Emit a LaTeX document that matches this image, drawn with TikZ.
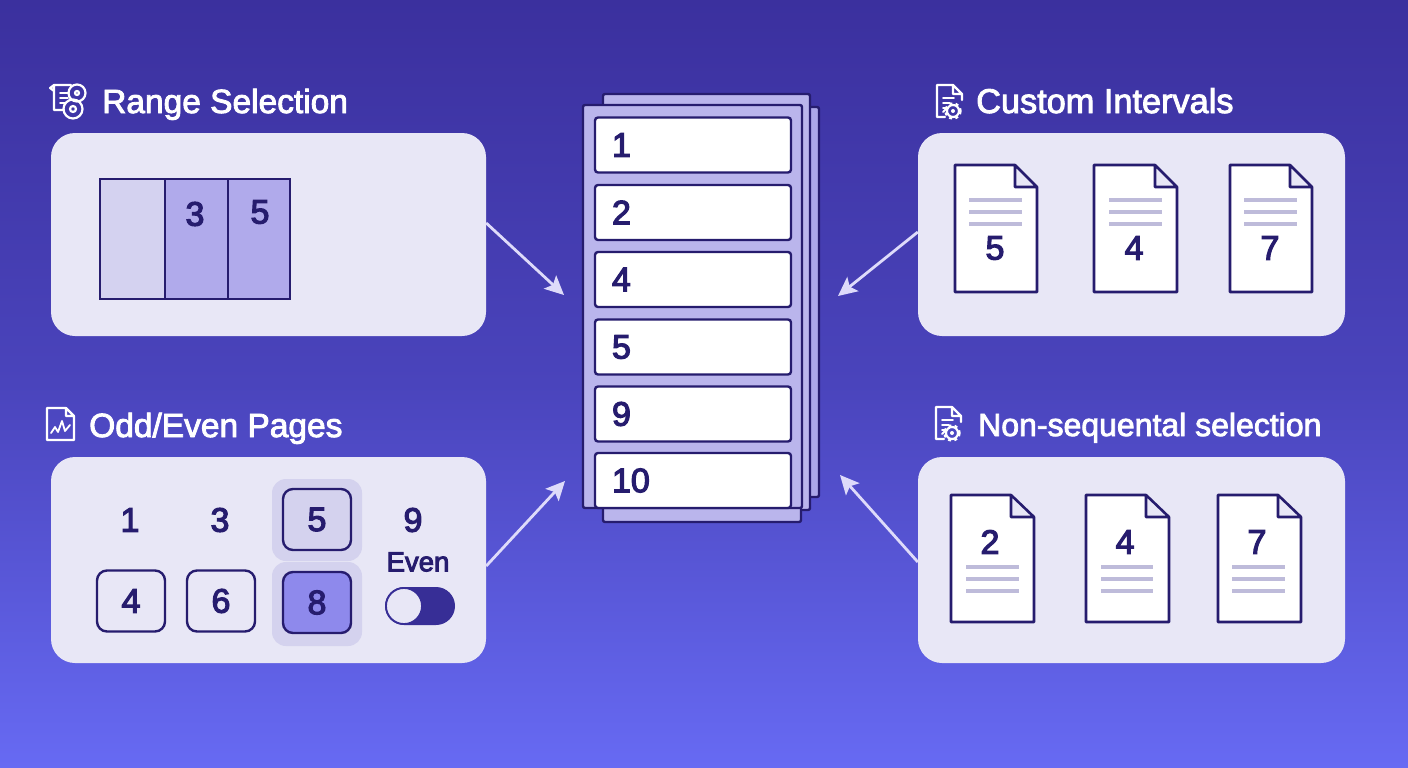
\documentclass[tikz,border=0pt]{standalone}
\usepackage{fontspec}
\usetikzlibrary{arrows.meta}
\setmainfont{Liberation Sans}
\newfontfamily\medfont[FakeBold=3.4]{Liberation Sans}
\newfontfamily\headfont[FakeBold=2.6]{Liberation Sans}
\definecolor{inkdark}{RGB}{38,28,110}
\definecolor{bgtop}{RGB}{59,48,158}
\definecolor{bgmid}{RGB}{74,68,188}
\definecolor{bgbot}{RGB}{103,106,243}
\definecolor{panelfill}{RGB}{232,231,246}
\definecolor{sheetfill}{RGB}{172,167,233}
\definecolor{frontfill}{RGB}{186,181,236}
\definecolor{lightcell}{RGB}{212,210,240}
\definecolor{midcell}{RGB}{176,170,235}
\definecolor{halofill}{RGB}{212,210,238}
\definecolor{pickfill}{RGB}{142,137,236}
\definecolor{linegray}{RGB}{190,187,218}
\definecolor{arrowlight}{RGB}{222,219,250}
\definecolor{togglefill}{RGB}{55,46,150}
\tikzset{
  panel/.style = {fill = panelfill, rounded corners = 24pt, minimum width = #1, inner sep = 0pt},
  title/.style = {text = white, anchor = base west, inner sep = 0pt},
  num/.style = {text = inkdark, font = \medfont\fontsize{34}{34}\selectfont, inner sep = 0pt},
  sheet/.style = {draw = inkdark, line width = 2.4pt, rounded corners = 2pt},
  row/.style = {draw = inkdark, line width = 2.4pt, fill = white, rounded corners = 3pt, minimum width = 196pt, minimum height = 55pt, text = inkdark, font = \medfont\fontsize{34}{34}\selectfont, align = left, text width = 162pt, inner xsep = 17pt, inner ysep = 0pt},
  numbox/.style = {draw = inkdark, line width = 2.4pt, rounded corners = 10pt, minimum width = 68pt, minimum height = 61pt, text = inkdark, font = \medfont\fontsize{34}{34}\selectfont, inner sep = 0pt},
  pagebox/.style = {draw = inkdark, line width = 2.6pt, fill = white, line join = round},
  pageline/.style = {draw = linegray, line width = 3.4pt},
  icon/.style = {draw = white, line width = 2.2pt, line join = round, line cap = round},
  flow/.style = {draw = arrowlight, line width = 2.8pt, -{Stealth[length = 19pt, width = 18pt, inset = 4pt]}}
}
\begin{document}
\begin{tikzpicture}[x = 1pt, y = -1pt]
        \useasboundingbox (0,0) rectangle (1408,768);
        \shade [top color = bgtop, bottom color = bgbot, middle color = bgmid] (0,0) rectangle (1408,768);

        \node [panel = 435pt, minimum height = 203pt] (rangepanel) at (268.5,234.5) {};
        \node [panel = 435pt, minimum height = 206pt] (oddpanel) at (268.5,560) {};
        \node [panel = 427pt, minimum height = 203pt] (custompanel) at (1131.5,234.5) {};
        \node [panel = 427pt, minimum height = 206pt] (nonseqpanel) at (1131.5,560) {};

        \node [title, font = \headfont\fontsize{33.5}{34}\selectfont] (rangetitle) at (102,113) {Range Selection};
        \node [title, font = \headfont\fontsize{33.5}{34}\selectfont] (oddtitle) at (89,437) {Odd/Even Pages};
        \node [title, font = \headfont\fontsize{34.3}{34}\selectfont] (customtitle) at (976,113) {Custom Intervals};
        \node [title, font = \headfont\fontsize{32}{34}\selectfont] (nonseqtitle) at (978,436) {Non-sequental selection};

        % title icons
        \draw [icon] (50,88) -- (54,85) -- (71,85) (54,85) -- (54,110) -- (64,110) (50,88) -- (54,91);
        \draw [icon, line width = 1.8pt] (60,93) -- (69,93) (60,98) -- (68,98) (60,103) -- (65,103);
        \draw [icon] (77,93) circle (8.5) (73,109) circle (9.5);
        \draw [icon] (77,93) circle (2) (73,109) circle (3);
        \draw [icon] (47,408) -- (66,408) -- (74,416) -- (74,440) -- (47,440) -- cycle (66,408) -- (66,416) -- (74,416);
        \draw [icon, line width = 1.8pt] (51,433) -- (55,427) -- (58,432) -- (62,421) -- (65,431) -- (70,425);
        \draw [icon] (945,117) -- (937,117) -- (937,85) -- (953,85) -- (962,94) -- (962,100) (953,85) -- (953,94) -- (962,94);
        \draw [icon, line width = 1.8pt] (943,98) -- (954,98) (943,103) -- (950,103) (943,108) -- (947,108) -- (943,112);
        \draw [icon, line width = 2.2pt] (953,111) circle (6);
        \draw [icon, line width = 2.4pt, line cap = butt, dash pattern = on 3pt off 3.3pt] (953,111) circle (7.5);
        \fill [white] (953,111) circle (2);
        \draw [icon] (944,439) -- (936,439) -- (936,407) -- (952,407) -- (961,416) -- (961,422) (952,407) -- (952,416) -- (961,416);
        \draw [icon, line width = 1.8pt] (942,420) -- (953,420) (942,425) -- (949,425) (942,430) -- (946,430) -- (942,434);
        \draw [icon, line width = 2.2pt] (952,433) circle (6);
        \draw [icon, line width = 2.4pt, line cap = butt, dash pattern = on 3pt off 3.3pt] (952,433) circle (7.5);
        \fill [white] (952,433) circle (2);

        % range bar
        \fill [lightcell] (100,179) rectangle (165,299);
        \fill [midcell] (165,179) rectangle (290,299);
        \draw [draw = inkdark, line width = 2.6pt] (100,179) rectangle (290,299) (165,179) -- (165,299) (228,179) -- (228,299);
        \node [num] (range-3) at (195,214) {3};
        \node [num] (range-5) at (260,212) {5};

        % odd and even
        \fill [halofill, rounded corners = 14pt] (272,479) rectangle (362,561);
        \fill [halofill, rounded corners = 14pt] (272,562) rectangle (362,646);
        \node [num] (odd-1) at (130,520) {1};
        \node [num] (odd-3) at (220,520) {3};
        \node [numbox] (odd-5) at (317,519.5) {5};
        \node [num] (odd-9) at (413,520) {9};
        \node [numbox] (even-4) at (131,601) {4};
        \node [numbox] (even-6) at (221,601) {6};
        \node [numbox, fill = pickfill] (even-8) at (317,602.5) {8};
        \node [num, font = \medfont\fontsize{27.5}{28}\selectfont] (eventext) at (418,562) {Even};
        \fill [togglefill, rounded corners = 19pt] (385,587) rectangle (455,625);
        \draw [draw = togglefill, line width = 1.8pt, fill = panelfill] (404,606) circle (18);

        % page stack
        \draw [sheet, fill = sheetfill] (640,107) rectangle (819,497);
        \draw [sheet, fill = frontfill] (603,94) rectangle (810,510);
        \draw [sheet, fill = frontfill] (603,300) rectangle (801,522);
        \draw [sheet, fill = frontfill] (583,105) rectangle (802,508);
        \node [row] (row-1) at (693,145) {1};
        \node [row] (row-2) at (693,212.5) {2};
        \node [row] (row-3) at (693,279.5) {4};
        \node [row] (row-4) at (693,347) {5};
        \node [row] (row-5) at (693,414) {9};
        \node [row] (row-6) at (693,480.5) {10};

        % custom pages
        \draw [pagebox] (955,165) -- (1015,165) -- (1037,187) -- (1037,292) -- (955,292) -- cycle (1015,165) -- (1015,187) -- (1037,187);
        \draw [pagebox] (1094,165) -- (1155,165) -- (1177,187) -- (1177,292) -- (1094,292) -- cycle (1155,165) -- (1155,187) -- (1177,187);
        \draw [pagebox] (1230,165) -- (1290,165) -- (1312,187) -- (1312,292) -- (1230,292) -- cycle (1290,165) -- (1290,187) -- (1312,187);
        \draw [pageline] (969,200) -- (1022,200) (969,212) -- (1022,212) (969,224) -- (1022,224);
        \draw [pageline] (1109,200) -- (1162,200) (1109,212) -- (1162,212) (1109,224) -- (1162,224);
        \draw [pageline] (1244,200) -- (1297,200) (1244,212) -- (1297,212) (1244,224) -- (1297,224);
        \node [num] (custom-5) at (995,248) {5};
        \node [num] (custom-4) at (1134,248) {4};
        \node [num] (custom-7) at (1270,248) {7};

        % non sequential pages
        \draw [pagebox] (951,495) -- (1011,495) -- (1034,517) -- (1034,622) -- (951,622) -- cycle (1011,495) -- (1011,517) -- (1034,517);
        \draw [pagebox] (1086,495) -- (1146,495) -- (1169,517) -- (1169,622) -- (1086,622) -- cycle (1146,495) -- (1146,517) -- (1169,517);
        \draw [pagebox] (1218,495) -- (1278,495) -- (1301,517) -- (1301,622) -- (1218,622) -- cycle (1278,495) -- (1278,517) -- (1301,517);
        \draw [pageline] (966,567) -- (1019,567) (966,579) -- (1019,579) (966,591) -- (1019,591);
        \draw [pageline] (1101,567) -- (1153,567) (1101,579) -- (1153,579) (1101,591) -- (1153,591);
        \draw [pageline] (1232,567) -- (1285,567) (1232,579) -- (1285,579) (1232,591) -- (1285,591);
        \node [num] (nonseq-2) at (990,542) {2};
        \node [num] (nonseq-4) at (1125,542) {4};
        \node [num] (nonseq-7) at (1257,542) {7};

        % connectors
        \coordinate (tip-a) at (564,295);
        \coordinate (tip-b) at (565,481);
        \coordinate (tip-c) at (838,296);
        \coordinate (tip-d) at (840,475);
        \draw [flow] ([yshift = 11.5pt]rangepanel.east) -- (tip-a);
        \draw [flow] ([yshift = -6pt]oddpanel.east) -- (tip-b);
        \draw [flow] ([yshift = 2.5pt]custompanel.west) -- (tip-c);
        \draw [flow] ([yshift = -2pt]nonseqpanel.west) -- (tip-d);
    \end{tikzpicture}
\end{document}
